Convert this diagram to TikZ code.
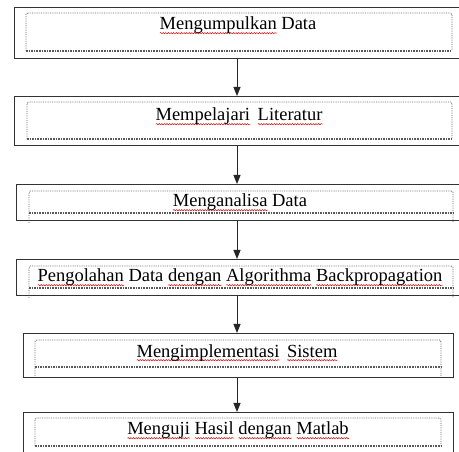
\documentclass[tikz,border=0pt]{standalone}
\usepackage{fontspec}
\setmainfont{Liberation Serif}
\usetikzlibrary{arrows.meta,decorations.pathmorphing}
\newsavebox\wavebox
\newcommand\spellwave[1]{\sbox\wavebox{#1}\rlap{\raisebox{-3.2pt}{\tikz[baseline=0pt]\draw[red!85!black, line width=0.45pt, decorate, decoration={snake, amplitude=0.7pt, segment length=2.6pt}] (0pt,0pt) -- (\wd\wavebox,0pt);}}\usebox\wavebox}
\tikzset{
  outerbox/.style={draw=black!80, line width=1.3pt, rectangle, inner sep=0pt, anchor=north west},
  innerframe/.style={draw=black!60, densely dotted, line width=0.8pt, rounded corners=1.5pt},
  innerbase/.style={draw=black!65, densely dotted, line width=1.6pt},
  steptext/.style={anchor=base, font=\fontsize{18.5}{20}\selectfont, inner sep=0pt},
  arr/.style={-{Triangle[length=9pt,width=7pt]}, line width=1pt, draw=black!85},
}
\begin{document}
\begin{tikzpicture}[x=1pt,y=-1pt]
\useasboundingbox (0,0) rectangle (459,452);
\fill[white] (0,0) rectangle (459,452);
\coordinate (ax) at (237,0);
% outer boxes
\node[outerbox, minimum width=466pt, minimum height=51pt] (b1) at (14,7) {};
\node[outerbox, minimum width=466pt, minimum height=49pt] (b2) at (14,96) {};
\node[outerbox, minimum width=464pt, minimum height=36pt] (b3) at (16,184) {};
\node[outerbox, minimum width=464pt, minimum height=36pt] (b4) at (16,259) {};
\node[outerbox, minimum width=430pt, minimum height=44pt] (b5) at (23,333) {};
\node[outerbox, minimum width=430pt, minimum height=60pt] (b6) at (23,412) {};
% inner dotted frames
\draw[innerframe] (26,51) -- (26,13) -- (452,13) -- (452,51);
\draw[innerbase] (26,51) -- (452,51);
\draw[innerframe] (27,139) -- (27,102) -- (452,102) -- (452,139);
\draw[innerbase] (27,139) -- (452,139);
\draw[innerframe] (29,223) -- (29,191) -- (453,191) -- (453,223);
\draw[innerbase] (29,213) -- (453,213);
\draw[innerframe] (29,298) -- (29,266) -- (453,266) -- (453,298);
\draw[innerbase] (29,288) -- (453,288);
\draw[innerframe] (35,376) -- (35,340) -- (441,340) -- (441,376);
\draw[innerbase] (35,367) -- (441,367);
\draw[innerframe] (35,446) -- (35,418) -- (441,418) -- (441,446);
\draw[innerbase] (35,446) -- (441,446);
% texts
\node[steptext] (t1) at (238,30) {\spellwave{Mengumpulkan} Data};
\node[steptext] (t2) at (239,121) {\spellwave{Mempelajari}\hspace{3pt} \spellwave{Literatur}};
\node[steptext] (t3) at (240,207) {\spellwave{Menganalisa} Data};
\node[steptext] (t4) at (240,282) {\spellwave{Pengolahan} Data \spellwave{dengan} \spellwave{Algorithma} \spellwave{Backpropagation}};
\node[steptext] (t5) at (237,357) {\spellwave{Mengimplementasi}\hspace{3pt} \spellwave{Sistem}};
\node[steptext] (t6) at (238,435) {\spellwave{Menguji} \spellwave{Hasil} \spellwave{dengan} \spellwave{Matlab}};
% arrows
\draw[arr] (b1.south -| ax) -- (b2.north -| ax);
\draw[arr] (b2.south -| ax) -- (b3.north -| ax);
\draw[arr] (b3.south -| ax) -- (b4.north -| ax);
\draw[arr] (b4.south -| ax) -- (b5.north -| ax);
\draw[arr] (b5.south -| ax) -- (b6.north -| ax);
\end{tikzpicture}
\end{document}
